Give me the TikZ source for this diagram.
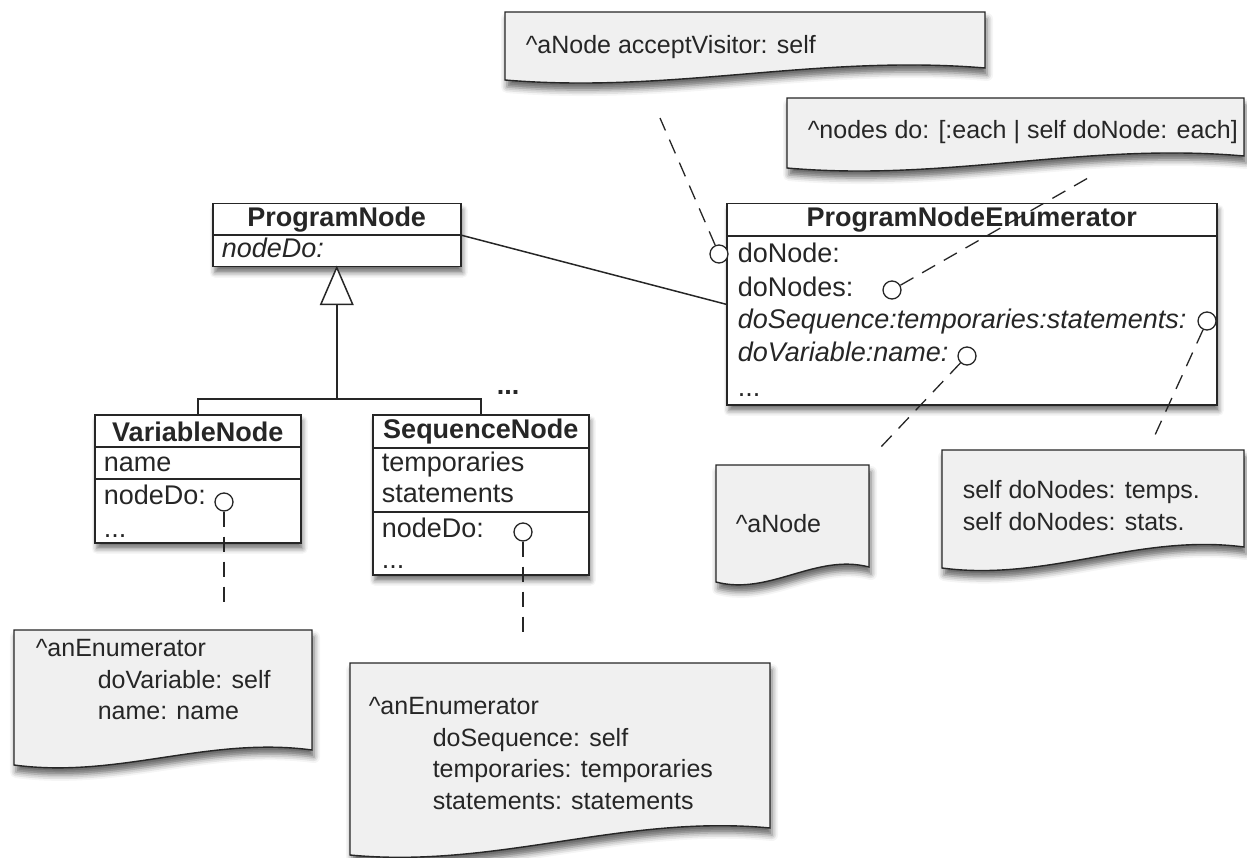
\documentclass[tikz,border=0pt]{standalone}
\usepackage{fontspec}
\setmainfont{Liberation Sans}
\usetikzlibrary{positioning,shadows.blur}

\begin{document}
\begin{tikzpicture}[x=1pt,y=-1pt,line width=1.5pt,color=black!85,
  cls/.style={draw,fill=white,inner sep=0pt,anchor=north west,
    blur shadow={shadow xshift=2pt,shadow yshift=-6pt,shadow blur radius=5pt,shadow opacity=55}},
  clsname/.style={font=\fontsize{27}{32}\selectfont\bfseries,inner sep=0pt},
  clsrow/.style={font=\fontsize{27}{32}\selectfont,inner sep=0pt,anchor=base west},
  notepaper/.style={draw,fill=black!6,line width=1.4pt,
    blur shadow={shadow xshift=2pt,shadow yshift=-7pt,shadow blur radius=6pt,shadow opacity=60}},
  notetext/.style={font=\fontsize{25}{31.5}\selectfont,inner sep=0pt,anchor=north west,align=left},
  port/.style={draw,circle,fill=white,inner sep=0pt,minimum size=18pt,line width=1.3pt},
  dashline/.style={dash pattern=on 15pt off 10pt,line width=1.3pt}]

\useasboundingbox (0,0) rectangle (1247,858);

% notes
\foreach \xa/\ya/\xb/\yl/\yr in {505/12/985/80/68, 787/98/1244/168/156,
  716/465/869/582/567, 942/450/1244/568/547, 14/630/312/765/750, 350/663/770/855/828}
{
  \draw[notepaper] (\xa,\ya) -- (\xb,\ya) -- (\xb,\yr)
    .. controls ({\xb-0.35*(\xb-\xa)},{\yr-14}) and ({\xa+0.35*(\xb-\xa)},{\yl+14}) .. (\xa,\yl) -- cycle;
}

\node[notetext] (accept) at (525,35) {\textasciicircum aNode acceptVisitor: self};
\node[notetext] (nodesdo) at (807,120) {\textasciicircum nodes do: [:each | self doNode: each]};
\node[notetext] (anode) at (735,514) {\textasciicircum aNode};
\node[notetext] (selfdo) at (962,480) {self doNodes: temps.\\self doNodes: stats.};
\node[notetext] (varnote) at (35,639) {\textasciicircum anEnumerator\\
  \hspace*{62pt}doVariable: self\\\hspace*{62pt}name: name};
\node[notetext] (seqnote) at (368,697) {\textasciicircum anEnumerator\\
  \hspace*{64pt}doSequence: self\\\hspace*{64pt}temporaries: temporaries\\
  \hspace*{64pt}statements: statements};

% classes
\node[cls,minimum width=248pt,minimum height=63pt] (pn) at (212,203) {};
\draw ([yshift=-32pt]pn.north west) -- ([yshift=-32pt]pn.north east);
\node[clsname] (pnname) at ([yshift=-17pt]pn.north) {ProgramNode};
\node[clsrow] (pndo) at (221,258) {\itshape nodeDo:};

\node[cls,minimum width=490pt,minimum height=201pt] (pne) at (726,203) {};
\draw ([yshift=-33pt]pne.north west) -- ([yshift=-33pt]pne.north east);
\node[clsname] (pnename) at ([yshift=-17pt]pne.north) {ProgramNodeEnumerator};
\node[clsrow] (donode) at (737,263) {doNode:};
\node[clsrow] (donodes) at (737,297) {doNodes:};
\node[clsrow] (doseq) at (737,329) {\itshape doSequence:temporaries:statements:};
\node[clsrow] (dovar) at (737,362) {\itshape doVariable:name:};
\node[clsrow] (pnemore) at (737,396) {...};

\node[cls,minimum width=206pt,minimum height=128pt] (vn) at (94,414) {};
\draw ([yshift=-33pt]vn.north west) -- ([yshift=-33pt]vn.north east);
\draw ([yshift=-65pt]vn.north west) -- ([yshift=-65pt]vn.north east);
\node[clsname] (vnname) at ([yshift=-18pt]vn.north) {VariableNode};
\node[clsrow] (vnattr) at (103,471) {name};
\node[clsrow] (vndo) at (103,504) {nodeDo:};
\node[clsrow] (vnmore) at (103,537) {...};

\node[cls,minimum width=216pt,minimum height=160pt] (sn) at (372,414) {};
\draw ([yshift=-34pt]sn.north west) -- ([yshift=-34pt]sn.north east);
\draw ([yshift=-98pt]sn.north west) -- ([yshift=-98pt]sn.north east);
\node[clsname] (snname) at ([yshift=-18pt]sn.north) {SequenceNode};
\node[clsrow] (sntemps) at (381,471) {temporaries};
\node[clsrow] (snstats) at (381,502) {statements};
\node[clsrow] (sndo) at (381,537) {nodeDo:};
\node[clsrow] (snmore) at (381,568) {...};

% generalisation
\draw[fill=white] (pn.south) -- ++(-16,37) coordinate (tl) -- ++(32,0) -- cycle;
\coordinate (tri) at ([yshift=-37pt]pn.south);
\draw (vn.north) -- ++(0,-15) coordinate (bar) -| (sn.north);
\draw (tri) -- (tri |- bar);
\node[clsname] (more) at (508,392) {...};

% association
\path (pn.east) edge (pne.west);

% ports
\node[port] (vnport) at (224,502) {};
\node[port] (snport) at (523,532) {};
\node[port] (dnport) at (719,254) {};
\node[port] (dnsport) at (892,290) {};
\node[port] (dseqport) at (1207,321) {};
\node[port] (dvarport) at (967,356) {};

\coordinate (vnend) at (224,610);
\coordinate (snend) at (523,638);
\coordinate (dnend) at (660,118);
\coordinate (dnsend) at (1088,178);
\coordinate (dseqend) at (1155,435);
\coordinate (dvarend) at (880,448);

\foreach \p in {vn,sn,dn,dns,dseq,dvar}
{
  \draw[dashline] (\p port) -- (\p end);
}

\end{tikzpicture}
\end{document}
